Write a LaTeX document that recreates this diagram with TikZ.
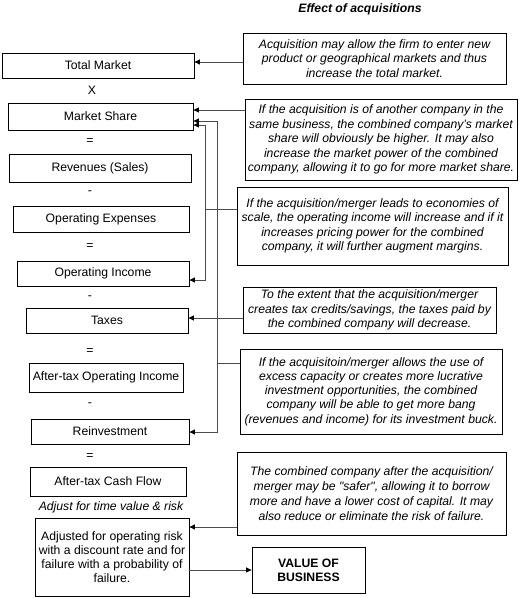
\documentclass[tikz,border=0pt]{standalone}
\usepackage{fontspec}
\setmainfont{Liberation Sans}
\usetikzlibrary{arrows.meta}
\begin{document}
\begin{tikzpicture}[x=1pt,y=-1pt,
  every node/.style={font=\fontsize{12.2}{14.5}\selectfont},
  lbox/.style={draw=black, line width=0.8pt, inner sep=0pt, align=center},
  rbox/.style={draw=black, line width=0.8pt, inner sep=0pt, align=center, font=\fontsize{12.2}{14.5}\selectfont\itshape},
  op/.style={inner sep=0pt},
  arr/.style={draw=black!70, line width=0.9pt, -{Triangle[length=5.5pt,width=5pt,color=black]}},
  ln/.style={draw=black!70, line width=0.9pt}]
\useasboundingbox (0,0) rectangle (519,598);
\node[font=\fontsize{12.2}{14}\selectfont\bfseries\itshape] (title) at (360,9) {Effect of acquisitions};
% left column
\node[lbox, minimum width=192, minimum height=25] (TM) at (98,65.5) {Total Market};
\node[op] (o1) at (92,90) {X};
\node[lbox, minimum width=185, minimum height=27] (MS) at (100.5,116.5) {Market Share};
\node[op] (o2) at (90,142) {=};
\node[lbox, minimum width=182, minimum height=28] (RV) at (100,168) {Revenues (Sales)};
\node[op] (o3) at (90,193) {-};
\node[lbox, minimum width=176, minimum height=26] (OE) at (101,219) {Operating Expenses};
\node[op] (o4) at (90,247) {=};
\node[lbox, minimum width=172, minimum height=25] (OI) at (103,273.5) {Operating Income};
\node[op] (o5) at (90,298) {-};
\node[lbox, minimum width=162, minimum height=25] (TX) at (107,320.5) {Taxes};
\node[op] (o6) at (90,352) {=};
\node[lbox, minimum width=154, minimum height=29] (AT) at (106,377.5) {After-tax Operating Income};
\node[op] (o7) at (90,405) {-};
\node[lbox, minimum width=158, minimum height=25] (RI) at (110,431.5) {Reinvestment};
\node[op] (o8) at (90,457) {=};
\node[lbox, minimum width=156, minimum height=29] (CF) at (108,481.5) {After-tax Cash Flow};
\node[op, font=\fontsize{12.2}{14}\selectfont\itshape] (adj) at (111,507) {Adjust for time value \& risk};
\node[lbox, minimum width=154, minimum height=78, font=\fontsize{12.2}{14}\selectfont] (AD) at (112,557) {Adjusted for operating risk\\with a discount rate and for\\failure with a probability of\\failure.};
\node[lbox, minimum width=113, minimum height=46, font=\fontsize{12.2}{14}\selectfont\bfseries] (VB) at (308.5,570) {VALUE OF\\BUSINESS};
% right column
\node[rbox, minimum width=263, minimum height=51] (B1) at (374.5,58.5) {Acquisition may allow the firm to enter new\\product or geographical markets and thus\\increase the total market.};
\node[rbox, minimum width=272, minimum height=81] (B2) at (381,139.5) {If the acquisition is of another company in the\\same business, the combined company's market\\share will obviously be higher. It may also\\increase the market power of the combined\\company, allowing it to go for more market share.};
\node[rbox, minimum width=271, minimum height=78] (B3) at (372.5,226) {If the acquisition/merger leads to economies of\\scale, the operating income will increase and if it\\increases pricing power for the combined\\company, it will further augment margins.};
\node[rbox, minimum width=253, minimum height=46] (B4) at (369.5,310) {To the extent that the acquisition/merger\\creates tax credits/savings, the taxes paid by\\the combined company will decrease.};
\node[rbox, minimum width=262, minimum height=85, font=\fontsize{12.2}{14.2}\selectfont\itshape] (B5) at (371,391.5) {If the acquisitoin/merger allows the use of\\excess capacity or creates more lucrative\\investment opportunities, the combined\\company will be able to get more bang\\(revenues and income) for its investment buck.};
\node[rbox, minimum width=269, minimum height=83, font=\fontsize{12.2}{15}\selectfont\itshape] (B6) at (371.5,493.5) {The combined company after the acquisition/\\merger may be \textquotedbl safer\textquotedbl, allowing it to borrow\\more and have a lower cost of capital. It may\\also reduce or eliminate the risk of failure.};
% junction coordinates
\coordinate (j3) at (205,209);
\coordinate (j5) at (217,363);
% connectors
\draw[arr] (B1.west |- 0,62) -- (TM.east |- 0,62);
\draw[arr] (B2.west |- 0,110) -- (MS.east |- 0,110);
\draw[ln] (B3.west |- j3) -- (j3);
\draw[arr] (j3) -- (j3 |- 0,125) -- (MS.east |- 0,125);
\draw[arr] (j3) -- (j3 |- 0,280) -- (OI.east |- 0,280);
\draw[ln] (B5.west |- j5) -- (j5);
\draw[arr] (j5) -- (j5 |- 0,121) -- (MS.east |- 0,121);
\draw[arr] (j5) -- (j5 |- 0,432) -- (RI.east |- 0,432);
\draw[arr] (B4.west |- 0,318) -- (TX.east |- 0,318);
\draw[arr] (B6.west |- 0,527) -- (AD.east |- 0,527);
\draw[arr] (AD.east |- 0,570) -- (VB.west |- 0,570);
\end{tikzpicture}
\end{document}
